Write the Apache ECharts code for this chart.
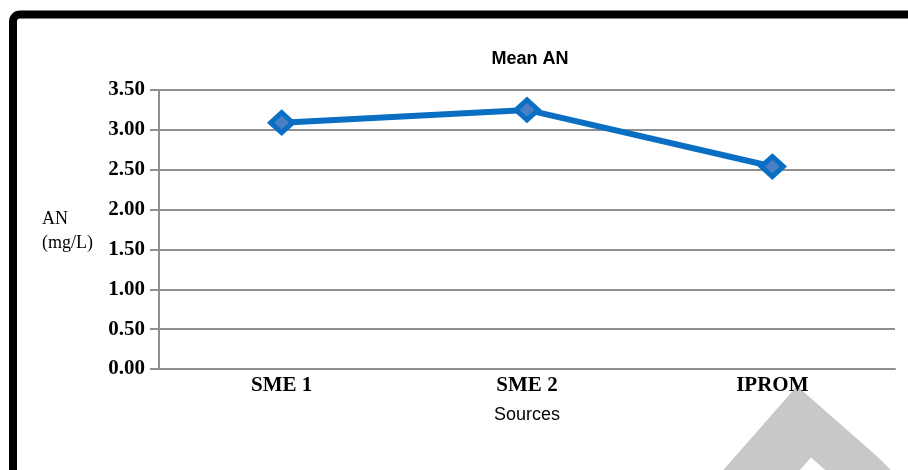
<!DOCTYPE html>
<html>
<head>
<meta charset="utf-8">
<script src="https://cdn.jsdelivr.net/npm/echarts@6/dist/echarts.min.js"></script>
<style>
  html, body { margin: 0; padding: 0; background: #fff; }
  #chart { width: 908px; height: 470px; }
</style>
</head>
<body>
<div id="chart"></div>
<script>
// Mean ammoniacal nitrogen by source
const categories = ['SME 1', 'SME 2', 'IPROM'];
const meanAN = [3.09, 3.25, 2.54];
const yTicks = { min: 0, max: 3.5, interval: 0.5 };

const chart = echarts.init(document.getElementById('chart'));

const serif = '"Liberation Serif", "Times New Roman", serif';
const sans = '"Liberation Sans", Arial, sans-serif';
const gridGray = '#8f8f8f';

chart.setOption({
  backgroundColor: '#ffffff',
  animation: false,
  title: {
    text: 'Mean AN',
    left: 525,
    top: 45,
    textAlign: 'center',
    textStyle: { fontFamily: sans, fontWeight: 'bold', fontSize: 18, color: '#000' }
  },
  grid: { left: 159, right: 13, top: 90, bottom: 101, containLabel: false },
  xAxis: {
    type: 'category',
    data: categories,
    boundaryGap: true,
    name: 'Sources',
    nameLocation: 'middle',
    nameGap: 37,
    nameTextStyle: { fontFamily: sans, fontSize: 18, color: '#000' },
    axisLine: { lineStyle: { color: gridGray, width: 2 } },
    axisTick: { show: false },
    axisLabel: {
      fontFamily: serif, fontWeight: 'bold', fontSize: 21, color: '#000', margin: 6
    }
  },
  yAxis: {
    type: 'value',
    min: yTicks.min,
    max: yTicks.max,
    interval: yTicks.interval,
    axisLine: { show: true, lineStyle: { color: gridGray, width: 2 } },
    axisTick: { show: true, length: 9, lineStyle: { color: gridGray, width: 2 } },
    axisLabel: {
      formatter: v => v.toFixed(2),
      fontFamily: serif, fontWeight: 'bold', fontSize: 21, color: '#000', margin: 14
    },
    splitLine: { lineStyle: { color: gridGray, width: 2 } }
  },
  series: [{
    type: 'line',
    data: meanAN,
    symbol: 'diamond',
    symbolSize: [22, 20],
    lineStyle: { color: '#0a6fc2', width: 6 },
    itemStyle: { color: '#4a7fc4', borderColor: '#0a6fc2', borderWidth: 5 },
    z: 5
  }],
  graphic: [
    {
      type: 'text',
      z: -10,
      x: 800,
      y: 342,
      rotation: -0.72,
      style: { text: 'D', fill: '#c8c8c8', font: 'bold 400px "Liberation Sans", Arial, sans-serif' }
    },
    {
      type: 'text',
      left: 42,
      top: 207,
      style: {
        text: 'AN\n(mg/L)',
        fill: '#000',
        font: '18px "Liberation Serif", "Times New Roman", serif',
        lineHeight: 24
      }
    },
    {
      type: 'rect',
      shape: { x: 13, y: 14.5, width: 1200, height: 1200, r: 7 },
      style: { fill: 'none', stroke: '#000', lineWidth: 8 }
    }
  ]
});
</script>
</body>
</html>
